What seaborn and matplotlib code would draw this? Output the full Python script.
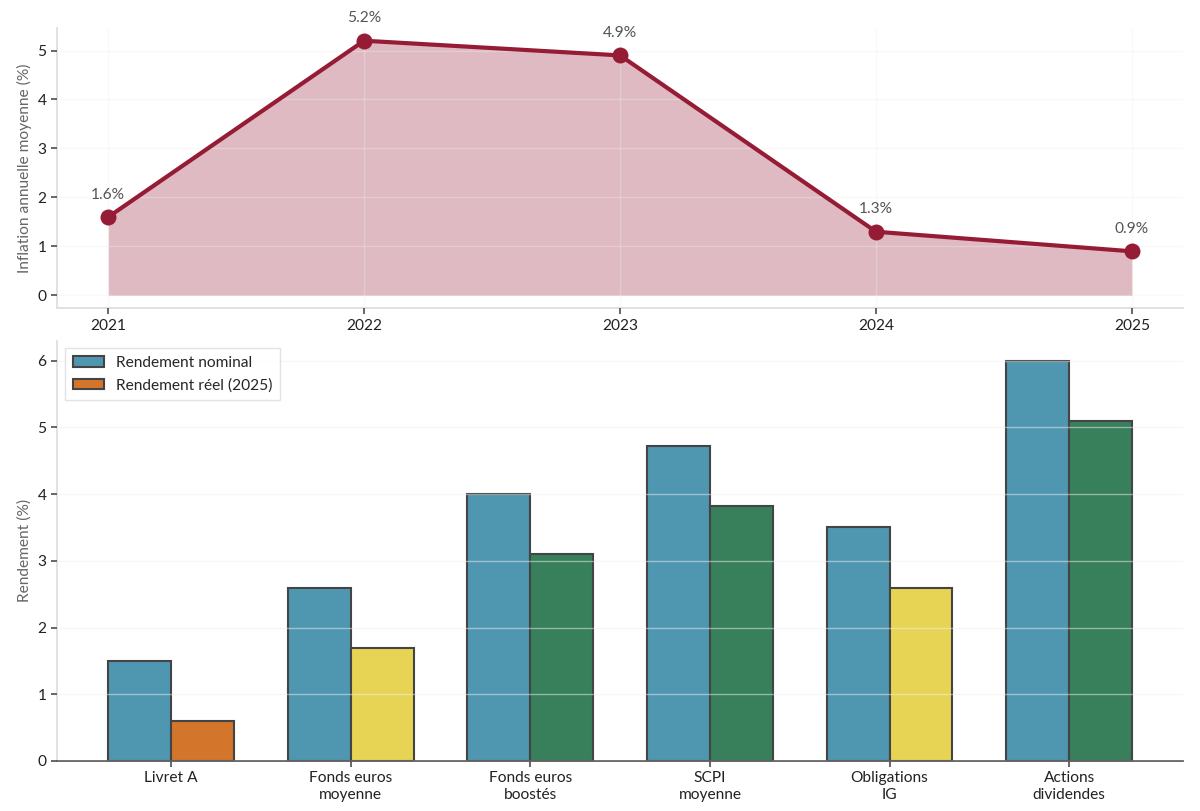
import numpy as np
import pandas as pd
import matplotlib
matplotlib.use('Agg')
import matplotlib.pyplot as plt
from matplotlib.patches import Patch
import seaborn as sns

# Données
annees = [2021, 2022, 2023, 2024, 2025]
inflation = [1.6, 5.2, 4.9, 1.3, 0.9]

placements = ['Livret A', 'Fonds euros\nmoyenne', 'Fonds euros\nboostés',
              'SCPI\nmoyenne', 'Obligations\nIG', 'Actions\ndividendes']
rdt_nominal = [1.5, 2.6, 4.0, 4.72, 3.5, 6.0]
rdt_reel = [0.6, 1.7, 3.1, 3.82, 2.6, 5.1]

# Couleurs
c_infl = '#961b35'
c_nominal = '#4f97b0'
c_orange = '#d4752c'
c_jaune = '#e8d454'
c_vert = '#37805b'
c_bord = '#444444'

sns.set_theme(style='white')
plt.rcParams['font.family'] = ['Lato', 'DejaVu Sans']
fs = 11.2

fig, (ax1, ax2) = plt.subplots(2, 1, figsize=(12, 8.11), dpi=100,
                               gridspec_kw={'height_ratios': [2, 3]})
fig.subplots_adjust(left=0.0475, right=0.986, top=0.9655, bottom=0.0617, hspace=0.093)

# --- Graphique du haut : inflation ---
df_infl = pd.DataFrame({'annee': annees, 'inflation': inflation})
ax1.fill_between(df_infl['annee'], 0, df_infl['inflation'], color=c_infl, alpha=0.3,
                 linewidth=0, zorder=1)
sns.lineplot(data=df_infl, x='annee', y='inflation', ax=ax1, color=c_infl,
             linewidth=3, marker='o', markersize=11.5, markeredgewidth=0, zorder=3)
for a, v in zip(annees, inflation):
    ax1.annotate(f'{v}%', (a, v), xytext=(0, 11), textcoords='offset points',
                 ha='center', va='bottom', fontsize=fs, color='#555555')
ax1.set_xticks(annees)
ax1.set_xticklabels([str(a) for a in annees])
ax1.set_xlabel('')
ax1.set_ylabel('Inflation annuelle moyenne (%)', fontsize=fs, color='#666666')
ax1.set_axisbelow(False)
ax1.grid(True, color='#eeeeee', linewidth=1, alpha=0.35, zorder=2)
sns.despine(ax=ax1)
for s in ['left', 'bottom']:
    ax1.spines[s].set_color('#dddddd')
ax1.tick_params(axis='both', which='both', length=4, color='#555555', labelsize=fs,
                labelcolor='#222222', left=True, bottom=True)

# --- Graphique du bas : rendements ---
df_rdt = pd.DataFrame({
    'placement': placements * 2,
    'rendement': rdt_nominal + rdt_reel,
    'type': ['Rendement nominal'] * len(placements) + ['Rendement réel (2025)'] * len(placements),
})
sns.barplot(data=df_rdt, x='placement', y='rendement', hue='type', ax=ax2,
            width=0.7, palette=[c_nominal, c_vert], edgecolor=c_bord, linewidth=1.5,
            saturation=1, legend=False)


def couleur_reel(v):
    if v < 1:
        return c_orange
    if v < 3:
        return c_jaune
    return c_vert


barres = ax2.patches
n = len(placements)
for i, b in enumerate(barres[n:2 * n]):
    b.set_facecolor(couleur_reel(rdt_reel[i]))

handles = [Patch(facecolor=c_nominal, edgecolor=c_bord, linewidth=1.5, label='Rendement nominal'),
           Patch(facecolor=couleur_reel(rdt_reel[0]), edgecolor=c_bord, linewidth=1.5,
                 label='Rendement réel (2025)')]
leg = ax2.legend(handles=handles, loc='upper left', fontsize=fs, frameon=True,
                 fancybox=False, borderpad=0.5)
leg.get_frame().set_edgecolor('#dddddd')

ax2.set_xlim(-0.635, 5.635)
ax2.set_xlabel('')
ax2.set_ylabel('Rendement (%)', fontsize=fs, color='#666666')
ax2.set_axisbelow(False)
ax2.yaxis.grid(True, color='#eeeeee', linewidth=1, alpha=0.5)
ax2.xaxis.grid(False)
sns.despine(ax=ax2)
ax2.spines['left'].set_color('#dddddd')
ax2.spines['bottom'].set_color('#555555')
ax2.tick_params(axis='both', which='both', length=4, color='#555555', labelsize=fs,
                labelcolor='#222222', left=True, bottom=True)

fig.savefig('out.png', dpi=100)
